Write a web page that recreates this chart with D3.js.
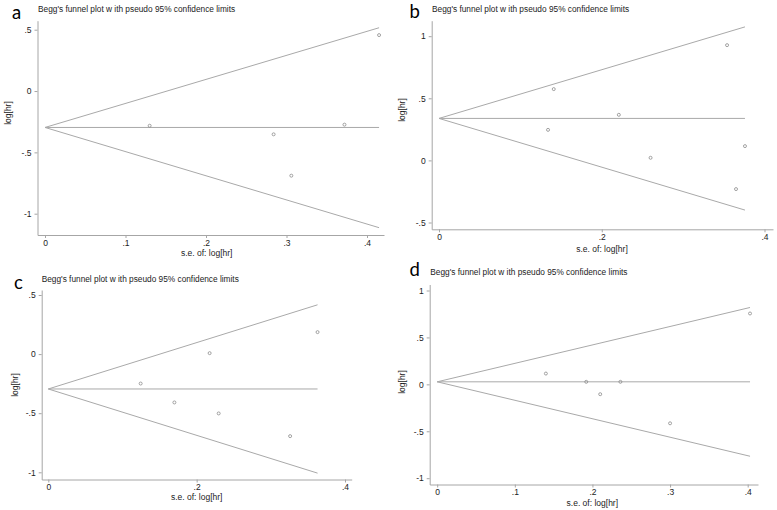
<!DOCTYPE html>
<html>
<head>
<meta charset="utf-8">
<script src="https://cdn.jsdelivr.net/npm/d3@7"></script>
<style>
  html, body { margin: 0; padding: 0; background: #fff; }
  svg { display: block; }
</style>
</head>
<body>
<svg id="chart" width="777" height="510"></svg>
<script>
// ---------------- DATA ----------------
const panelLetters = ["a", "b", "c", "d"];
const titleText = "Begg's funnel plot w ith pseudo 95% confidence limits";
const yLabelText = "log[hr]";
const xLabelText = "s.e. of: log[hr]";

const seA = [0.130, 0.284, 0.306, 0.372, 0.415];
const logHrA = [-0.283, -0.353, -0.690, -0.274, 0.456];
const seB = [0.134, 0.141, 0.221, 0.260, 0.354, 0.365, 0.376];
const logHrB = [0.246, 0.574, 0.367, 0.021, 0.928, -0.231, 0.115];
const seC = [0.1245, 0.170, 0.2175, 0.2297, 0.326, 0.363];
const logHrC = [-0.249, -0.409, 0.008, -0.502, -0.694, 0.186];
const seD = [0.140, 0.192, 0.210, 0.236, 0.300, 0.403];
const logHrD = [0.115, 0.027, -0.105, 0.027, -0.415, 0.755];

const pooled = [-0.297, 0.338, -0.295, 0.027];
const limitSe = [0.415, 0.376, 0.363, 0.403];
const upperLimit = [0.516, 1.075, 0.417, 0.819];
const lowerLimit = [-1.114, -0.400, -1.007, -0.766];

const xTicksA = [0, 0.1, 0.2, 0.3, 0.4];
const yTicksA = [-1, -0.5, 0, 0.5];
const xTicksB = [0, 0.2, 0.4];
const yTicksB = [-0.5, 0, 0.5, 1];
const xTicksC = [0, 0.2, 0.4];
const yTicksC = [-1, -0.5, 0, 0.5];
const xTicksD = [0, 0.1, 0.2, 0.3, 0.4];
const yTicksD = [-1, -0.5, 0, 0.5, 1];

// ---------------- LAYOUT ----------------
const layout = [
  { xAxis: [37.5, 384], yAxis: [20.7, 235], xRef: [[0, 45], [0.4, 367]], yRef: [[0.5, 29.7], [-1, 213.7]],
    letter: [12, 18.5], title: [38, 12], ylab: [8, 113], xlab: [206.7, 256] },
  { xAxis: [431.7, 773], yAxis: [20.7, 229.3], xRef: [[0, 439], [0.4, 764.5]], yRef: [[1, 36.2], [-0.5, 222.5]],
    letter: [409.5, 18], title: [432, 12], ylab: [402, 110], xlab: [602, 251.5] },
  { xAxis: [41.7, 351.7], yAxis: [290, 479.5], xRef: [[0, 48.3], [0.4, 345]], yRef: [[0.5, 295], [-1, 472.3]],
    letter: [14, 288.5], title: [41.7, 282], ylab: [15, 385], xlab: [196.7, 499.5] },
  { xAxis: [429.7, 758], yAxis: [284.5, 484.5], xRef: [[0, 437.2], [0.4, 747.7]], yRef: [[1, 290.5], [-1, 478.2]],
    letter: [409.5, 275.5], title: [430.3, 275], ylab: [402, 382], xlab: [592.3, 505.5] }
];

const panels = [
  { se: seA, y: logHrA, xt: xTicksA, yt: yTicksA },
  { se: seB, y: logHrB, xt: xTicksB, yt: yTicksB },
  { se: seC, y: logHrC, xt: xTicksC, yt: yTicksC },
  { se: seD, y: logHrD, xt: xTicksD, yt: yTicksD }
];

const axisColor = "#a6a6a6";
const lineColor = "#a9a9a9";
const pointColor = "#8c8c8c";
const textColor = "#222";
const font = "'Liberation Sans', Arial, sans-serif";

function extendedScale(ref, extent) {
  const s = d3.scaleLinear().domain([ref[0][0], ref[1][0]]).range([ref[0][1], ref[1][1]]);
  return d3.scaleLinear().domain([s.invert(extent[0]), s.invert(extent[1])]).range(extent);
}
const fmt = v => (v === 0 ? "0" : String(v).replace(/^(-?)0\./, "$1."));

const svg = d3.select("#chart");

panels.forEach((p, i) => {
  const L = layout[i];
  const x = extendedScale(L.xRef, L.xAxis);
  const yExt = [L.yAxis[1], L.yAxis[0]];
  const y = extendedScale(L.yRef, yExt);
  const g = svg.append("g");

  // axes
  const xAxis = d3.axisBottom(x).tickValues(p.xt).tickFormat(fmt).tickSizeInner(3).tickSizeOuter(0).tickPadding(1.5);
  const yAxis = d3.axisLeft(y).tickValues(p.yt).tickFormat(fmt).tickSizeInner(3).tickSizeOuter(0).tickPadding(3);

  const gx = g.append("g").attr("transform", `translate(0,${L.yAxis[1]})`).call(xAxis);
  const gy = g.append("g").attr("transform", `translate(${L.xAxis[0]},0)`).call(yAxis);
  [gx, gy].forEach(a => {
    a.selectAll("path.domain").attr("stroke", axisColor).attr("stroke-width", 1);
    a.selectAll(".tick line").attr("stroke", axisColor);
    a.selectAll(".tick text").attr("fill", textColor).style("font-family", font).style("font-size", "8.5px");
  });

  // funnel lines
  const th = pooled[i], sm = limitSe[i];
  const lines = [
    [[0, th], [sm, upperLimit[i]]],
    [[0, th], [sm, lowerLimit[i]]],
    [[0, th], [sm, th]]
  ];
  const lineGen = d3.line().x(d => x(d[0])).y(d => y(d[1]));
  g.selectAll("path.funnel").data(lines).enter().append("path")
    .attr("class", "funnel")
    .attr("d", lineGen)
    .attr("fill", "none")
    .attr("stroke", lineColor)
    .attr("stroke-width", 1);

  // points
  g.selectAll("circle.pt").data(p.se.map((s, k) => [s, p.y[k]])).enter().append("circle")
    .attr("class", "pt")
    .attr("cx", d => x(d[0]))
    .attr("cy", d => y(d[1]))
    .attr("r", 1.5)
    .attr("fill", "none")
    .attr("stroke", pointColor)
    .attr("stroke-width", 0.8);

  // texts
  g.append("text").attr("x", L.title[0]).attr("y", L.title[1])
    .attr("fill", textColor).style("font-family", font).style("font-size", "8.3px")
    .text(titleText);
  g.append("text").attr("x", L.letter[0]).attr("y", L.letter[1])
    .attr("fill", "#000").style("font-family", "Lato, 'Open Sans', sans-serif").style("font-size", "18.5px")
    .text(panelLetters[i]);
  g.append("text").attr("transform", `translate(${L.ylab[0]},${L.ylab[1]}) rotate(-90)`)
    .attr("text-anchor", "middle").attr("dy", "0.35em")
    .attr("fill", textColor).style("font-family", font).style("font-size", "8.5px")
    .text(yLabelText);
  g.append("text").attr("x", L.xlab[0]).attr("y", L.xlab[1])
    .attr("text-anchor", "middle")
    .attr("fill", textColor).style("font-family", font).style("font-size", "8.5px")
    .text(xLabelText);
});
</script>
</body>
</html>
